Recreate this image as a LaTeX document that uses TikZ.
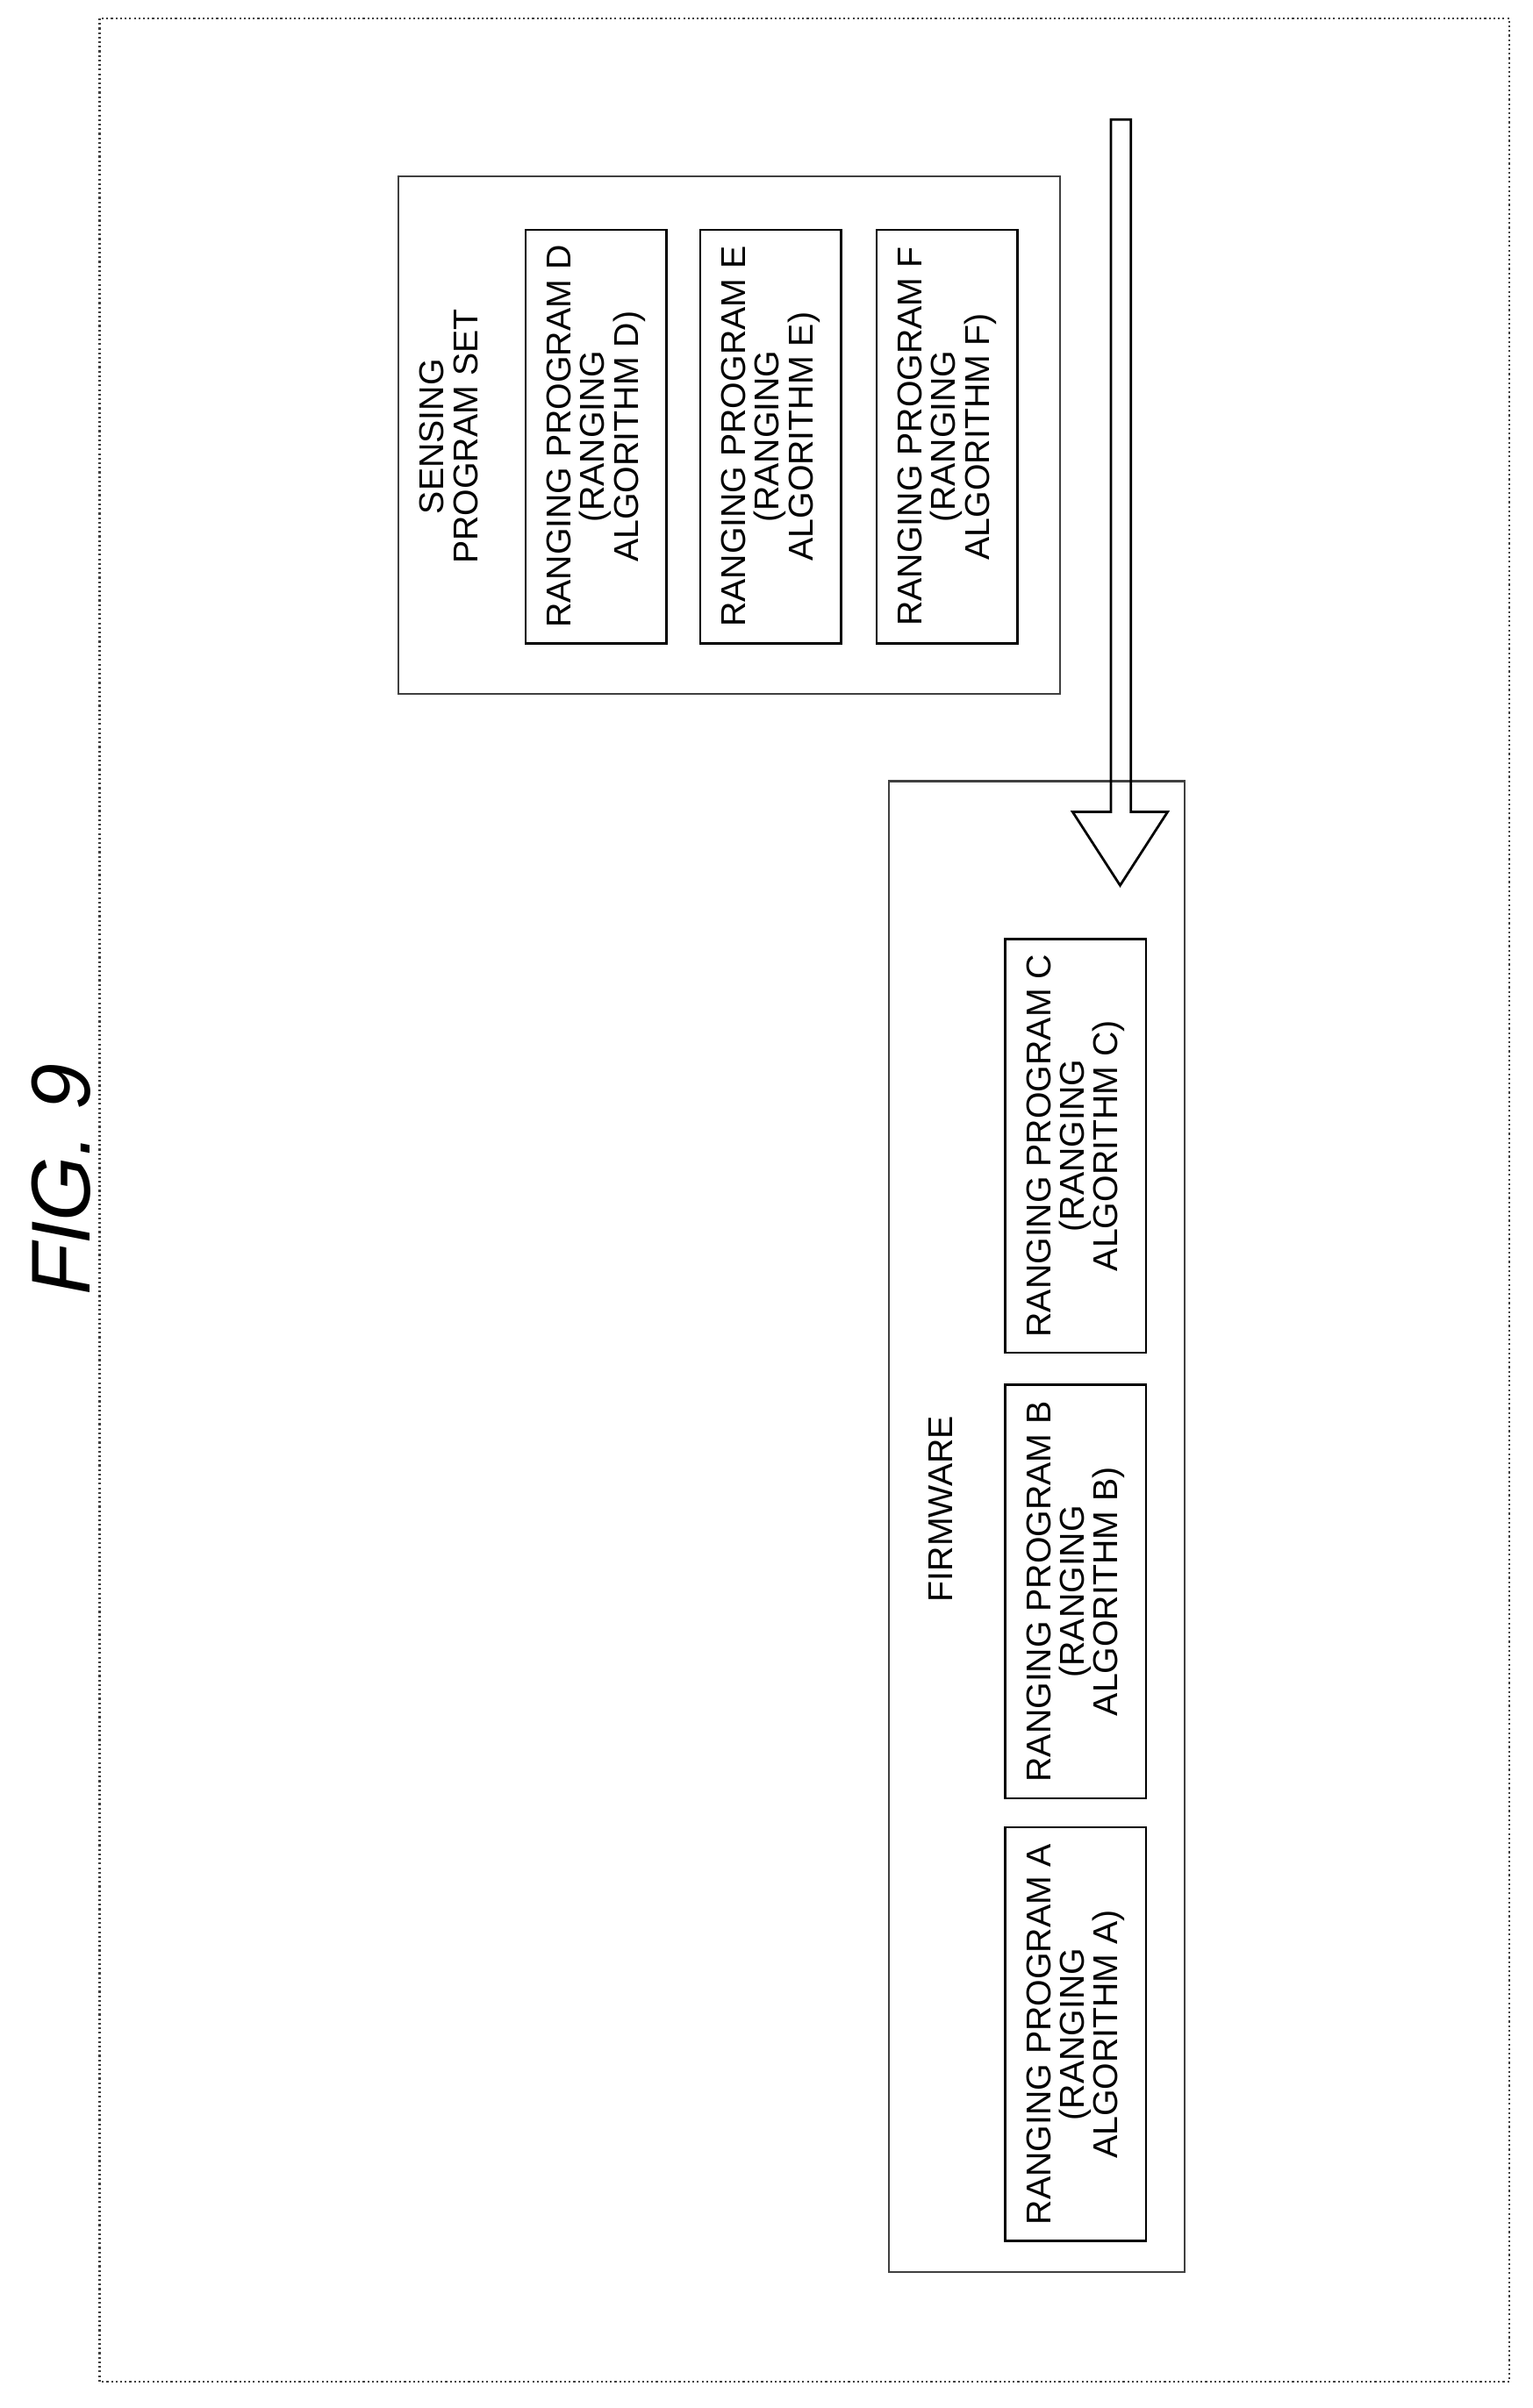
\documentclass[tikz,border=0pt]{standalone}
\usepackage{fontspec}
\setmainfont{Liberation Sans}
\usetikzlibrary{positioning}
\tikzset{
  frame/.style = {draw=black!75, line width=0.7pt},
  prog/.style = {draw, line width=0.8pt, rotate=90, align=center, minimum width=54mm, minimum height=18.4mm, inner sep=1pt, font=\fontsize{12.8}{12.5}\selectfont},
  caption/.style = {rotate=90, align=center, font=\fontsize{12.8}{12.5}\selectfont}
}
\begin{document}
\begin{tikzpicture}[x=0.2mm, y=-0.2mm]
        \useasboundingbox (0,0) rectangle (1000,1572);
        \draw [frame, densely dotted] (65,12) rectangle (985,1555);
        \node (title) [rotate=90, font=\fontsize{31}{32}\selectfont\itshape] at (40,770) {FIG. 9};
        % sensing program set
        \draw [frame] (260,115) rectangle (692,453);
        \node (setlabel) [caption] at (293,285) {SENSING\\PROGRAM SET};
        \node (progD) [prog] at (389,285) {RANGING PROGRAM D\\(RANGING\\ALGORITHM D)};
        \node (progE) [prog] at (503,285) {RANGING PROGRAM E\\(RANGING\\ALGORITHM E)};
        \node (progF) [prog] at (618,285) {RANGING PROGRAM F\\(RANGING\\ALGORITHM F)};
        % firmware
        \draw [frame] (580,510) rectangle (773,1483);
        \node (fwlabel) [caption] at (614,985) {FIRMWARE};
        \node (progA) [prog] at (702,1328) {RANGING PROGRAM A\\(RANGING\\ALGORITHM A)};
        \node (progB) [prog] at (702,1039) {RANGING PROGRAM B\\(RANGING\\ALGORITHM B)};
        \node (progC) [prog] at (702,748) {RANGING PROGRAM C\\(RANGING\\ALGORITHM C)};
        % hollow arrow
        \draw [line width=0.9pt, line join=miter] (725,78) -- (738,78) -- (738,530) -- (762,530) -- (731,578) -- (700,530) -- (725,530) -- cycle;
    \end{tikzpicture}
\end{document}
